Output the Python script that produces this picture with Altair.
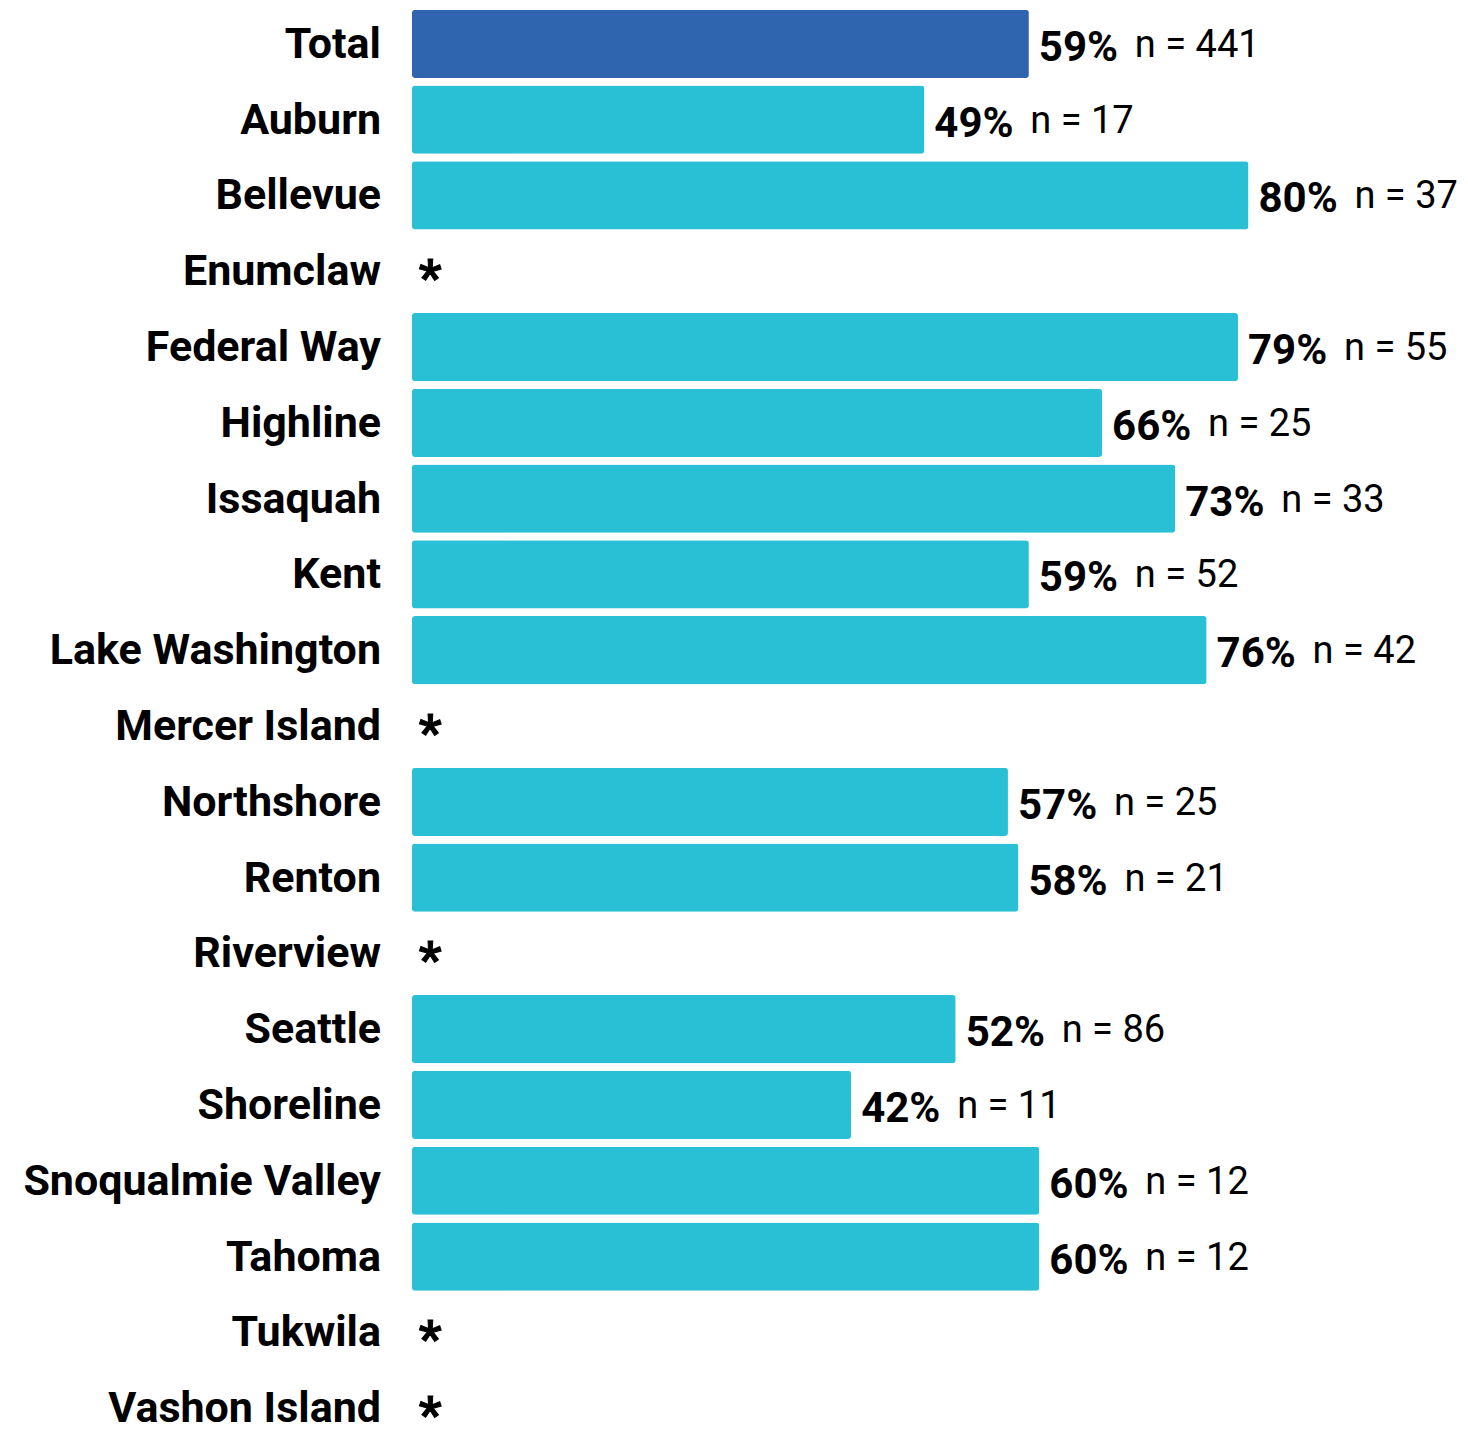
import altair as alt
import pandas as pd

categories = ["Total", "Auburn", "Bellevue", "Enumclaw", "Federal Way", "Highline",
              "Issaquah", "Kent", "Lake Washington", "Mercer Island", "Northshore",
              "Renton", "Riverview", "Seattle", "Shoreline", "Snoqualmie Valley",
              "Tahoma", "Tukwila", "Vashon Island"]
values = [59, 49, 80, None, 79, 66, 73, 59, 76, None, 57, 58, None, 52, 42, 60, 60, None, None]
counts = [441, 17, 37, None, 55, 25, 33, 52, 42, None, 25, 21, None, 86, 11, 12, 12, None, None]

rows = []
for c, v, n in zip(categories, values, counts):
    rows.append({
        "district": c,
        "value": v,
        "pct": f"{v}%" if v is not None else "",
        "ntext": f"n = {n}" if n is not None else "",
        "group": "Total" if c == "Total" else "District",
        "star": "*" if v is None else "",
    })
df = pd.DataFrame(rows)

yenc = alt.Y("district:N", sort=categories, axis=None,
             scale=alt.Scale(paddingInner=0.1, paddingOuter=0.05))
xscale = alt.Scale(domain=[0, 101], nice=False, zero=True)

base = alt.Chart(df)

bars = base.transform_filter("datum.value != null").mark_bar(cornerRadius=3).encode(
    y=yenc,
    x=alt.X("value:Q", scale=xscale, axis=None),
    color=alt.Color("group:N", scale=alt.Scale(domain=["Total", "District"],
                                                range=["#2F65AF", "#29C0D5"]), legend=None),
)

pct = base.transform_filter("datum.value != null").mark_text(
    align="left", baseline="middle", dx=10, dy=4, font="Roboto", fontWeight="bold",
    fontSize=42, color="#000000"
).encode(y=yenc, x=alt.X("value:Q", scale=xscale), text="pct:N")

ntxt = base.transform_filter("datum.value != null").mark_text(
    align="left", baseline="middle", dx=106, dy=2, font="Roboto", fontWeight="normal",
    fontSize=38, color="#000000"
).encode(y=yenc, x=alt.X("value:Q", scale=xscale), text="ntext:N")

stars = base.transform_filter("datum.value == null").mark_text(
    align="center", baseline="middle", dy=9, font="Roboto", fontWeight="bold",
    fontSize=50, color="#000000", stroke="#000000", strokeWidth=1
).encode(y=yenc, x=alt.value(18), text="star:N")

labels = base.mark_text(
    align="right", baseline="middle", dy=1, font="Roboto", fontWeight="bold",
    fontSize=43, color="#000000"
).encode(y=yenc, x=alt.value(-31), text="district:N")

chart = alt.layer(bars, pct, ntxt, stars, labels).properties(
    width=1056, height=1440,
    background="#ffffff",
    autosize=alt.AutoSizeParams(type="none"),
    padding={"left": 412, "top": 6, "right": 0, "bottom": 0},
).configure_view(stroke=None, strokeWidth=0)

chart.save("out.html", embed_options={"renderer": "svg", "actions": False})
